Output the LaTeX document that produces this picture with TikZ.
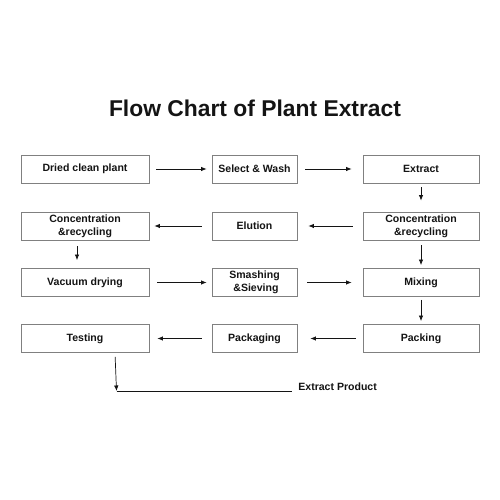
\documentclass[tikz,border=0pt]{standalone}
\usepackage{fontspec}
\setmainfont{Liberation Sans}
\usepackage{tikz}
\usetikzlibrary{arrows.meta, positioning}
\usepackage{xcolor}
\definecolor{boxline}{RGB}{128, 128, 128}
\definecolor{textdark}{RGB}{20, 20, 20}

\begin{document}
\begin{tikzpicture}[
    box/.style={rectangle, draw=boxline, line width=0.5pt, minimum height=0.56cm, inner sep=0pt, align=center, font=\fontsize{6}{7.6}\selectfont\bfseries, text=textdark},
    colone/.style={box, minimum width=2.56cm},
    coltwo/.style={box, minimum width=1.70cm},
    colthree/.style={box, minimum width=2.32cm},
    arrow/.style={-{Latex[length=1.1mm, width=0.9mm]}, line width=0.4pt, color=textdark},
    title/.style={font=\fontsize{13}{15}\selectfont\bfseries, text=textdark}
]

% Background / page size
\fill[white] (0, 0) rectangle (10, 10);
\useasboundingbox (0, 0) rectangle (10, 10);

% Title
\node[title] (heading) at (5.10, 7.84) {Flow Chart of Plant Extract};

% Row 1
\node[colone] (dried) at (1.70, 6.62) {Dried clean plant};
\node[coltwo] (select) at (5.09, 6.62) {Select \& Wash};
\node[colthree] (extract) at (8.42, 6.62) {Extract};

% Row 2
\node[colone] (concleft) at (1.70, 5.48) {Concentration\\\&recycling};
\node[coltwo] (elution) at (5.09, 5.48) {Elution};
\node[colthree] (concright) at (8.42, 5.48) {Concentration\\\&recycling};

% Row 3
\node[colone] (vacuum) at (1.70, 4.35) {Vacuum drying};
\node[coltwo] (smashing) at (5.09, 4.35) {Smashing\\\ \&Sieving};
\node[colthree] (mixing) at (8.42, 4.35) {Mixing};

% Row 4
\node[colone] (testing) at (1.70, 3.23) {Testing};
\node[coltwo] (packaging) at (5.09, 3.23) {Packaging};
\node[colthree] (packing) at (8.42, 3.23) {Packing};

% Arrows between rows and columns
\draw[arrow, shorten <=0.14cm, shorten >=0.10cm] (dried) -- (select);
\draw[arrow, shorten <=0.16cm, shorten >=0.22cm] (select) -- (extract);
\draw[arrow, shorten <=0.08cm, shorten >=0.22cm] (extract) -- (concright);
\draw[arrow, shorten <=0.20cm, shorten >=0.22cm] (concright) -- (elution);
\draw[arrow, shorten <=0.20cm, shorten >=0.10cm] (elution) -- (concleft);
\draw[arrow, shorten <=0.12cm, shorten >=0.16cm] ([xshift=-0.16cm]concleft.south) -- ([xshift=-0.16cm]vacuum.north);
\draw[arrow, shorten <=0.16cm, shorten >=0.10cm] (vacuum) -- (smashing);
\draw[arrow, shorten <=0.20cm, shorten >=0.22cm] (smashing) -- (mixing);
\draw[arrow, shorten <=0.10cm, shorten >=0.06cm] (concright) -- (mixing);
\draw[arrow, shorten <=0.06cm, shorten >=0.06cm] (mixing) -- (packing);
\draw[arrow, shorten <=0.14cm, shorten >=0.26cm] (packing) -- (packaging);
\draw[arrow, shorten <=0.20cm, shorten >=0.16cm] (packaging) -- (testing);

% Final product
\coordinate (corner) at (2.33, 2.18);
\node[font=\fontsize{6}{7.6}\selectfont\bfseries, text=textdark, anchor=west, inner sep=0pt] (product) at (5.96, 2.26) {Extract Product};
\draw[arrow, shorten <=0.08cm] ([xshift=0.60cm]testing.south) -- (corner);
\draw[line width=0.4pt, color=textdark, shorten >=0.12cm] (corner) -- (corner -| product.west);

\end{tikzpicture}
\end{document}
